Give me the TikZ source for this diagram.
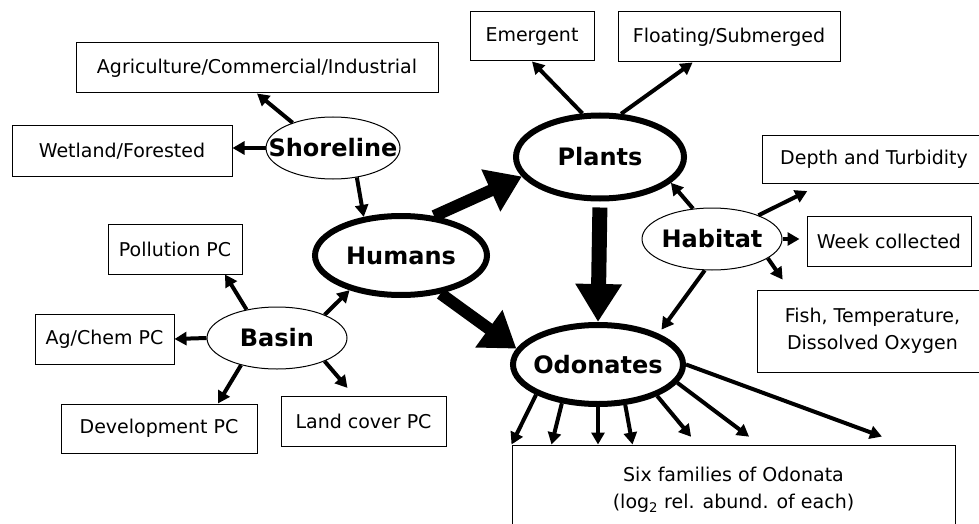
\documentclass[tikz,border=0pt]{standalone}
\usepackage{fontspec}
\setmainfont{DejaVu Sans}
\usepackage{tikz}
\usetikzlibrary{arrows.meta,shapes.geometric}
\tikzset{
  box/.style={draw, line width=1pt, inner sep=0pt, align=center, font=\fontsize{19}{27}\selectfont},
  ell/.style={ellipse, draw, line width=1pt, inner sep=0pt},
  bigell/.style={ellipse, draw, line width=6pt, inner sep=0pt},
  lab/.style={font=\fontsize{24}{28}\selectfont\bfseries},
  arr/.style={line width=4pt, -{Triangle[length=12pt,width=13pt]}},
  bigarr/.style={line width=12pt, -{Triangle[length=34pt,width=44pt]}},
}

\begin{document}
\begin{tikzpicture}[x=1pt, y=-1pt]
  \useasboundingbox (0,0) rectangle (979,524);

  \node[box, minimum width=362pt, minimum height=50pt] (agri) at (257,68) {Agriculture/Commercial/Industrial};
  \node[box, minimum width=220pt, minimum height=50pt] (wet) at (122,151) {Wetland/Forested};
  \node[box, minimum width=124pt, minimum height=49pt] (emer) at (532,36.5) {Emergent};
  \node[box, minimum width=222pt, minimum height=50pt] (float) at (729,37) {Floating/Submerged};
  \node[box, minimum width=224pt, minimum height=48pt] (depth) at (874,159) {Depth and Turbidity};
  \node[box, minimum width=164pt, minimum height=50pt] (week) at (889,241) {Week collected};
  \node[box, minimum width=231pt, minimum height=82pt] (fish) at (872.5,331) {Fish, Temperature,\\ Dissolved Oxygen};
  \node[box, minimum width=134pt, minimum height=50pt] (poll) at (175,249) {Pollution PC};
  \node[box, minimum width=139pt, minimum height=50pt] (agchem) at (104.5,339) {Ag/Chem PC};
  \node[box, minimum width=196pt, minimum height=49pt] (dev) at (159,428.5) {Development PC};
  \node[box, minimum width=165pt, minimum height=50pt] (land) at (363.5,421) {Land cover PC};
  \node[box, minimum width=443pt, minimum height=90pt] (fam) at (733.5,490) {Six families of Odonata\\ (log\textsubscript{2} rel. abund. of each)};

  \node[ell, minimum width=134pt, minimum height=62pt, label={[lab]center:Shoreline}] (shore) at (333,148) {};
  \node[ell, minimum width=140pt, minimum height=62pt, label={[lab]center:Basin}] (basin) at (277,338) {};
  \node[ell, minimum width=140pt, minimum height=62pt, label={[lab]center:Habitat}] (habitat) at (712,239) {};
  \node[bigell, minimum width=172pt, minimum height=79pt, label={[lab]center:Humans}] (humans) at (401,255.5) {};
  \node[bigell, minimum width=168pt, minimum height=83pt, label={[lab]center:Plants}] (plants) at (600,157) {};
  \node[bigell, minimum width=170pt, minimum height=79pt, label={[lab]center:Odonates}] (odon) at (598,364.5) {};

  \draw[arr] (shore.148) -- (agri.south);
  \draw[arr] (shore.west) -- (shore.west -| wet.east);
  \draw[arr] (shore.309) -- (humans.134);

  \draw[bigarr] (humans.50) -- (plants.194);
  \draw[bigarr] (humans.316) -- (odon.169);
  \draw[line width=15pt, -{Triangle[length=38pt,width=44pt]}, shorten <=6pt] (plants.south) -- (odon.north);

  \draw[arr] (plants.112) -- (emer.south);
  \draw[arr] (plants.64) -- (float.215);

  \draw[arr] (habitat.122) -- (plants.340);
  \draw[arr, shorten >=17pt] (habitat.27) -- ([xshift=61pt]depth.south west);
  \draw[arr, shorten >=7pt] (habitat.east) -- (habitat.east -| week.west);
  \draw[arr, shorten >=12pt] (habitat.341) -- ([xshift=33pt]fish.north west);
  \draw[arr, shorten >=5pt] (habitat.257) -- (odon.27);

  \draw[arr] (basin.137) -- (poll.333);
  \draw[arr] (basin.west) -- (agchem.east);
  \draw[arr] (basin.217) -- (dev.23);
  \draw[arr, shorten >=10pt] (basin.334) -- ([xshift=73.5pt]land.north west);
  \draw[arr] (basin.26) -- (humans.214);

  \draw[arr] (odon.206) -- (fam.north west);
  \draw[arr] (odon.227) -- ([xshift=40pt]fam.north west);
  \draw[arr] (odon.south) -- (odon.south |- fam.north);
  \draw[arr] (odon.304) -- ([xshift=121pt]fam.north west);
  \draw[arr, shorten >=10pt] (odon.332) -- ([xshift=186pt]fam.north west);
  \draw[arr, shorten >=13pt] (odon.347) -- ([xshift=248pt]fam.north west);
  \draw[arr, shorten >=23pt] (odon.east) -- ([xshift=392pt]fam.north west);
\end{tikzpicture}
\end{document}
